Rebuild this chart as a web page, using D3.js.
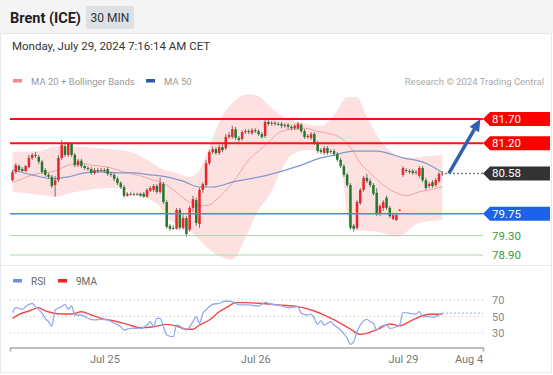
<!DOCTYPE html>
<html>
<head>
<meta charset="utf-8">
<script src="https://cdn.jsdelivr.net/npm/d3@7"></script>
<style>
  body { margin: 0; background: #fff; font-family: Roboto, Arial, sans-serif; }
  svg text { font-family: Roboto, Arial, sans-serif; }
</style>
</head>
<body>
<div class="main"></div>
<script>
// ---- data (30 min candles, index 0 = Jul 24 ~10:00) ----
const opens = [
  80.44, 80.61, 80.73, 80.67, 80.63, 80.71, 80.90, 80.96, 80.92, 80.82,
  80.65, 80.55, 80.51, 80.34, 80.44, 80.90, 81.14, 80.96, 81.19, 80.96,
  80.75, 80.84, 80.73, 80.69, 80.67, 80.59, 80.65, 80.63, 80.65, 80.67,
  80.57, 80.55, 80.47, 80.38, 80.30, 80.12, 80.16, 80.16, 80.14, 80.16,
  80.16, 80.10, 80.22, 80.24, 80.32, 80.20, 80.36, 79.99, 79.50, 79.46,
  79.44, 79.83, 79.46, 79.66, 79.42, 79.87, 80.03, 79.54, 80.24, 80.34,
  80.79, 81.02, 81.08, 81.00, 81.12, 81.10, 81.33, 81.33, 81.49, 81.31,
  81.29, 81.43, 81.45, 81.41, 81.47, 81.45, 81.39, 81.35, 81.64, 81.60,
  81.62, 81.60, 81.60, 81.56, 81.58, 81.54, 81.51, 81.51, 81.58, 81.45,
  81.33, 81.31, 81.39, 81.21, 81.06, 81.00, 81.10, 81.02, 81.04, 80.98,
  80.86, 80.73, 80.55, 80.34, 79.50, 79.46, 79.97, 80.24, 80.49, 80.42,
  80.34, 80.18, 79.75, 79.87, 80.08, 79.87, 79.64, 79.62, 79.81, 80.55,
  80.65, 80.63, 80.63, 80.59, 80.53, 80.69, 80.44, 80.32, 80.40, 80.34,
  80.42, 80.57
];
const highs = [
  80.65, 80.79, 80.77, 80.71, 80.75, 80.96, 81.00, 81.02, 80.96, 80.86,
  80.69, 80.59, 80.55, 80.53, 80.96, 81.27, 81.23, 81.23, 81.21, 81.00,
  80.88, 80.88, 80.77, 80.73, 80.71, 80.69, 80.69, 80.69, 80.69, 80.71,
  80.61, 80.59, 80.51, 80.42, 80.34, 80.20, 80.20, 80.18, 80.18, 80.18,
  80.20, 80.28, 80.32, 80.36, 80.36, 80.49, 80.40, 80.03, 79.54, 79.52,
  79.87, 79.87, 79.72, 79.70, 79.91, 80.12, 80.08, 80.28, 80.40, 80.86,
  81.06, 81.14, 81.12, 81.17, 81.17, 81.39, 81.43, 81.56, 81.54, 81.35,
  81.47, 81.49, 81.49, 81.51, 81.51, 81.49, 81.43, 81.70, 81.68, 81.66,
  81.66, 81.64, 81.64, 81.62, 81.62, 81.58, 81.60, 81.64, 81.62, 81.49,
  81.39, 81.43, 81.43, 81.25, 81.10, 81.14, 81.14, 81.08, 81.08, 81.02,
  80.90, 80.77, 80.59, 80.38, 79.54, 80.03, 80.28, 80.53, 80.57, 80.47,
  80.38, 80.28, 79.95, 80.03, 80.12, 79.91, 79.77, 79.77, 79.84, 80.73,
  80.69, 80.67, 80.67, 80.65, 80.73, 80.73, 80.49, 80.40, 80.44, 80.49,
  80.61, 80.63
];
const lows = [
  80.42, 80.57, 80.61, 80.61, 80.61, 80.69, 80.86, 80.90, 80.77, 80.57,
  80.51, 80.47, 80.28, 80.10, 80.40, 80.86, 80.92, 80.92, 80.92, 80.71,
  80.71, 80.69, 80.65, 80.63, 80.55, 80.55, 80.59, 80.61, 80.59, 80.53,
  80.51, 80.42, 80.34, 80.26, 80.08, 80.10, 80.12, 80.12, 80.12, 80.10,
  80.08, 80.08, 80.20, 80.20, 80.16, 80.16, 79.95, 79.44, 79.40, 79.42,
  79.42, 79.42, 79.42, 79.27, 79.38, 79.79, 79.50, 79.46, 80.18, 80.30,
  80.75, 80.98, 80.96, 80.96, 81.02, 81.06, 81.29, 81.29, 81.27, 81.23,
  81.25, 81.39, 81.39, 81.37, 81.41, 81.35, 81.29, 81.31, 81.56, 81.56,
  81.56, 81.56, 81.51, 81.51, 81.49, 81.47, 81.47, 81.47, 81.41, 81.29,
  81.29, 81.27, 81.17, 81.00, 80.98, 80.96, 80.96, 80.98, 80.94, 80.82,
  80.69, 80.51, 80.30, 79.42, 79.38, 79.42, 79.93, 80.20, 80.38, 80.30,
  80.12, 79.70, 79.70, 79.81, 79.83, 79.66, 79.62, 79.60, 79.81, 80.51,
  80.59, 80.57, 80.55, 80.55, 80.49, 80.40, 80.24, 80.28, 80.28, 80.30,
  80.38, 80.53
];
const closes = [
  80.61, 80.75, 80.65, 80.63, 80.73, 80.90, 80.96, 80.94, 80.82, 80.61,
  80.55, 80.51, 80.32, 80.44, 80.90, 81.17, 80.96, 81.19, 80.96, 80.75,
  80.84, 80.73, 80.69, 80.67, 80.59, 80.65, 80.63, 80.65, 80.63, 80.57,
  80.55, 80.47, 80.38, 80.30, 80.12, 80.16, 80.16, 80.14, 80.16, 80.12,
  80.10, 80.24, 80.28, 80.32, 80.20, 80.38, 79.99, 79.48, 79.44, 79.45,
  79.83, 79.46, 79.66, 79.33, 79.87, 80.05, 79.56, 80.24, 80.36, 80.79,
  81.02, 81.08, 81.00, 81.12, 81.06, 81.33, 81.37, 81.49, 81.31, 81.27,
  81.43, 81.45, 81.43, 81.47, 81.45, 81.39, 81.33, 81.64, 81.60, 81.62,
  81.60, 81.59, 81.56, 81.58, 81.54, 81.51, 81.56, 81.60, 81.45, 81.33,
  81.35, 81.39, 81.21, 81.04, 81.02, 81.10, 81.00, 81.04, 80.98, 80.86,
  80.73, 80.55, 80.34, 79.46, 79.44, 79.99, 80.24, 80.49, 80.42, 80.34,
  80.16, 79.75, 79.91, 79.99, 79.87, 79.70, 79.72, 79.72, 79.83, 80.69,
  80.63, 80.61, 80.59, 80.61, 80.69, 80.44, 80.28, 80.36, 80.32, 80.44,
  80.57, 80.58
];

const ma20Idx = [0,2,6,9,12,15,17,21,24,29,34,39,43,46,49,53,57,60,62,67,72,78,81,85,89,94,96,100,103,106,109,113,117,120,124,127,131];
const ma20 = [80.40,80.44,80.55,80.59,80.61,80.69,80.75,80.79,80.75,80.71,80.61,80.53,80.44,80.38,80.24,80.03,79.91,79.93,80.03,80.38,80.86,81.21,81.41,81.49,81.51,81.43,81.41,81.31,81.12,80.79,80.59,80.34,80.18,80.12,80.20,80.24,80.30];

const ma50Idx = [0,6,12,17,22,27,32,37,42,47,52,57,61,67,78,88,94,97,104,111,119,126,131];
const ma50 = [80.65,80.55,80.47,80.51,80.59,80.61,80.59,80.59,80.55,80.51,80.42,80.30,80.30,80.40,80.55,80.75,80.90,80.94,81.04,81.04,80.90,80.79,80.60];

const bbUpperIdx = [0,8,14,22,32,37,41,45,50,54,57,59,63,67,72,75,78,82,87,94,98,102,105,108,112,116,119,124,131];
const bbUpper = [81.02,81.04,81.14,81.12,81.06,81.00,80.86,80.69,80.59,80.51,80.65,80.96,81.64,82.03,82.21,82.17,81.99,81.76,81.64,81.56,81.78,82.15,82.15,81.74,81.27,81.00,80.90,80.92,80.96];
const bbLowerIdx = [0,8,13,18,23,31,36,42,45,47,51,55,59,63,67,71,75,78,82,85,90,97,100,102,104,112,117,124,131];
const bbLower = [80.20,80.14,80.10,80.18,80.24,80.28,80.20,80.03,79.89,79.68,79.48,79.35,79.07,78.88,78.80,79.25,79.83,80.10,80.65,80.96,81.06,81.06,80.86,79.72,79.42,79.37,79.27,79.56,79.62];

const rsiIdx = [0,1,3,4,6,7,9,10,11,12,13,15,16,17,18,19,21,23,25,27,29,31,33,34,36,39,41,42,43,44,45,46,47,49,50,52,53,55,56,57,58,59,61,63,65,67,69,72,75,77,79,81,84,87,88,90,91,92,93,94,95,97,98,100,102,103,104,105,106,108,109,110,111,112,114,115,117,118,119,121,123,124,125,127,128,130,131];
const rsi = [54.6,60.7,58.7,61.9,66,62,54,47.8,43.7,38.5,57.9,62,64.8,58.7,62.7,51.8,51.8,47.8,45.8,46.6,45.8,41.8,37.6,33.6,35.7,35.7,39.7,43.7,37.6,47.8,47.8,37.6,27.6,25.5,39.7,35.7,33.6,43.7,49.8,41.8,53.9,57.9,64.8,66,68.8,68,64,64,62.7,67.2,64.8,64,60.7,62,54,51.8,53,47.8,40.5,44.9,39.7,43.7,39.7,33.6,23.6,16.3,19.5,31.6,39.7,46.6,43.7,41.8,33.6,37.6,39.7,35.7,37.6,39.7,55.1,53.9,53,55.8,49.8,49.8,49,51.8,54];
const rsiMaIdx = [0,2,5,8,9,12,15,18,21,24,27,31,35,39,43,47,50,53,55,57,60,63,66,68,71,75,79,81,87,92,96,100,103,106,108,112,115,118,122,127,131];
const rsiMa = [47.8,52.7,56.7,60.7,58.7,54.6,53,53,55.8,51.8,47.8,44.5,40.5,36.4,37.6,40.5,38.5,34.5,34.5,39.7,45.8,55.8,62.7,66.8,66.8,66,64.8,64,62,56.7,49.8,41.8,34.8,28.4,29.6,35.7,40.9,38.8,45.8,52.7,52.7];

const resistances = [81.70, 81.20];
const pivot = 79.75;
const supports = [79.30, 78.90];
const arrowFrom = [133, 80.58];
const arrowTo = [142.6, 81.70];

const tickIdx = [28, 74, 119, 139];
const tickLabels = ["Jul 25", "Jul 26", "Jul 29", "Aug 4"];
const rsiLevels = [70, 50, 30];

//sizes
const w = 553;
const h = 375;

const x = d3.scaleLinear().domain([-0.76, 143.4]).range([10, 483]);
const y = d3.scaleLinear().domain([78.90, 81.70]).range([255, 119]);
const yR = d3.scaleLinear().domain([30, 70]).range([333, 300]);

const svg = d3.select(".main").append("svg")
  .attr("width", w)
  .attr("height", h);

// header
svg.append("rect").attr("x", 0).attr("y", 0).attr("width", w).attr("height", 33).attr("fill", "#f4f4f4");
svg.append("text").attr("x", 10).attr("y", 23)
  .attr("font-size", 14.5).attr("font-weight", "bold").attr("fill", "#222")
  .text("Brent (ICE)");
svg.append("rect").attr("x", 86).attr("y", 6).attr("width", 48).attr("height", 23).attr("rx", 2).attr("fill", "#dde0e5");
svg.append("text").attr("x", 110).attr("y", 22).attr("text-anchor", "middle")
  .attr("font-size", 12).attr("fill", "#333").text("30 MIN");

// panels
svg.append("rect").attr("x", 0.5).attr("y", 33.5).attr("width", 551).attr("height", 232)
  .attr("fill", "none").attr("stroke", "#e4e9ee");
svg.append("rect").attr("x", 0.5).attr("y", 265.5).attr("width", 551).attr("height", 107)
  .attr("fill", "none").attr("stroke", "#e4e9ee");

svg.append("text").attr("x", 12).attr("y", 50)
  .attr("font-size", 11.5).attr("fill", "#333")
  .text("Monday, July 29, 2024 7:16:14 AM CET");

// legend
const legend = [["MA 20 + Bollinger Bands", "#f28a8a", 13], ["MA 50", "#2c5aa0", 146]];
legend.forEach(([t, c, lx]) => {
  svg.append("rect").attr("x", lx).attr("y", 79).attr("width", 9).attr("height", 3.5).attr("fill", c);
  svg.append("text").attr("x", lx + 18).attr("y", 85).attr("font-size", 9.5).attr("fill", "#999").text(t);
});
svg.append("text").attr("x", 544).attr("y", 85).attr("text-anchor", "end")
  .attr("font-size", 9.5).attr("fill", "#aaa").text("Research \u00a9 2024 Trading Central");

// bollinger band: upper edge left->right, lower edge right->left
const edge = d3.line().curve(d3.curveMonotoneX);
const upperD = edge(bbUpperIdx.map((d, i) => [x(d), y(bbUpper[i])]));
const lowerD = edge(bbLowerIdx.map((d, i) => [x(d), y(bbLower[i])]).reverse());
svg.append("path")
  .attr("d", upperD + "L" + lowerD.slice(1) + "Z")
  .attr("fill", "#fde1e1");

const lineOf = (idx, vals, ys) => d3.line()
  .x((d, i) => x(idx[i]))
  .y((d, i) => ys(vals[i]))
  .curve(d3.curveMonotoneX)(vals);

svg.append("path").attr("d", lineOf(ma20Idx, ma20, y))
  .attr("fill", "none").attr("stroke", "#f5a3a3").attr("stroke-width", 1);
svg.append("path").attr("d", lineOf(ma50Idx, ma50, y))
  .attr("fill", "none").attr("stroke", "#7f98cc").attr("stroke-width", 1.2);

// candles
const candles = svg.append("g");
closes.forEach((c, i) => {
  const o = opens[i];
  const up = c >= o;
  candles.append("line")
    .attr("x1", x(i)).attr("x2", x(i))
    .attr("y1", y(highs[i])).attr("y2", y(lows[i]))
    .attr("stroke", "#555").attr("stroke-width", 0.8);
  candles.append("rect")
    .attr("x", x(i) - 1.25).attr("width", 2.5)
    .attr("y", y(Math.max(o, c)))
    .attr("height", Math.max(1, Math.abs(y(o) - y(c))))
    .attr("fill", up ? "#e8262b" : "#1f7a2c");
});

// levels
const right = x.range()[1];
resistances.forEach(v => {
  svg.append("line").attr("x1", 10).attr("x2", right).attr("y1", y(v)).attr("y2", y(v))
    .attr("stroke", "#ff1111").attr("stroke-width", 2);
});
svg.append("line").attr("x1", 10).attr("x2", right).attr("y1", y(pivot)).attr("y2", y(pivot))
  .attr("stroke", "#4b84ec").attr("stroke-width", 1.5);
supports.forEach(v => {
  svg.append("line").attr("x1", 10).attr("x2", right).attr("y1", y(v)).attr("y2", y(v))
    .attr("stroke", "#a9d8a6").attr("stroke-width", 1);
});

const last = closes[closes.length - 1];
svg.append("line").attr("x1", x(closes.length - 1) + 3).attr("x2", right)
  .attr("y1", y(last)).attr("y2", y(last))
  .attr("stroke", "#555").attr("stroke-width", 1.5).attr("stroke-dasharray", "1.5,2.5");

// arrow
const ax1 = x(arrowFrom[0]), ay1 = y(arrowFrom[1]);
const ax2 = x(arrowTo[0]), ay2 = y(arrowTo[1]);
const ang = Math.atan2(ay2 - ay1, ax2 - ax1);
const headL = 12, headW = 5.5;
const bx = ax2 - headL * Math.cos(ang), by = ay2 - headL * Math.sin(ang);
svg.append("line").attr("x1", ax1).attr("y1", ay1).attr("x2", bx).attr("y2", by)
  .attr("stroke", "#2f63ad").attr("stroke-width", 3.5);
svg.append("path")
  .attr("d", d3.line()([
    [ax2, ay2],
    [bx + headW * Math.sin(ang), by - headW * Math.cos(ang)],
    [bx - headW * Math.sin(ang), by + headW * Math.cos(ang)]
  ]) + "Z")
  .attr("fill", "#2f63ad");

// price tags
const tag = (v, fill, txtColor) => {
  const cy = y(v);
  svg.append("path")
    .attr("d", d3.line()([[right, cy], [right + 7, cy - 7], [550, cy - 7], [550, cy + 7], [right + 7, cy + 7]]) + "Z")
    .attr("fill", fill);
  svg.append("text").attr("x", right + 9).attr("y", cy + 4)
    .attr("font-size", 11.5).attr("fill", txtColor).text(v.toFixed(2));
};
resistances.forEach(v => tag(v, "#ff0000", "#fff"));
tag(last, "#333333", "#fff");
tag(pivot, "#1d63e8", "#fff");
supports.forEach(v => {
  svg.append("text").attr("x", right + 9).attr("y", y(v) + 4)
    .attr("font-size", 11.5).attr("fill", "#3c9a3c").text(v.toFixed(2));
});

// RSI panel
const rl = [["RSI", "#6f8fe6", 13], ["9MA", "#ee2222", 58]];
rl.forEach(([t, c, lx]) => {
  svg.append("rect").attr("x", lx).attr("y", 279).attr("width", 9).attr("height", 3.5).attr("fill", c);
  svg.append("text").attr("x", lx + 18).attr("y", 285).attr("font-size", 10).attr("fill", "#666").text(t);
});

rsiLevels.forEach(v => {
  svg.append("line").attr("x1", 10).attr("x2", right).attr("y1", yR(v)).attr("y2", yR(v))
    .attr("stroke", "#bbb").attr("stroke-width", 1).attr("stroke-dasharray", "1,3");
  svg.append("text").attr("x", 492).attr("y", yR(v) + 4)
    .attr("font-size", 11).attr("fill", "#888").text(v);
});

svg.append("path").attr("d", lineOf(rsiMaIdx, rsiMa, yR))
  .attr("fill", "none").attr("stroke", "#f04848").attr("stroke-width", 1.4);
svg.append("path").attr("d", lineOf(rsiIdx, rsi, yR))
  .attr("fill", "none").attr("stroke", "#92aaee").attr("stroke-width", 1.3);
const lastR = rsi[rsi.length - 1];
svg.append("line").attr("x1", x(rsiIdx[rsiIdx.length - 1])).attr("x2", right)
  .attr("y1", yR(lastR)).attr("y2", yR(lastR))
  .attr("stroke", "#92aaee").attr("stroke-width", 1.3).attr("stroke-dasharray", "1.5,2.5");

// time axis
const xAxis = d3.axisBottom(x)
  .tickValues(tickIdx)
  .tickFormat((d, i) => tickLabels[i])
  .tickSizeInner(0)
  .tickSizeOuter(4)
  .tickPadding(8);
const gx = svg.append("g").attr("transform", "translate(0,347.5)").call(xAxis);
gx.select(".domain").attr("stroke", "#aaa").attr("stroke-width", 1.5);
gx.selectAll("text").attr("font-size", 11).attr("fill", "#777").attr("font-family", "Roboto, Arial, sans-serif");
</script>
</body>
</html>
